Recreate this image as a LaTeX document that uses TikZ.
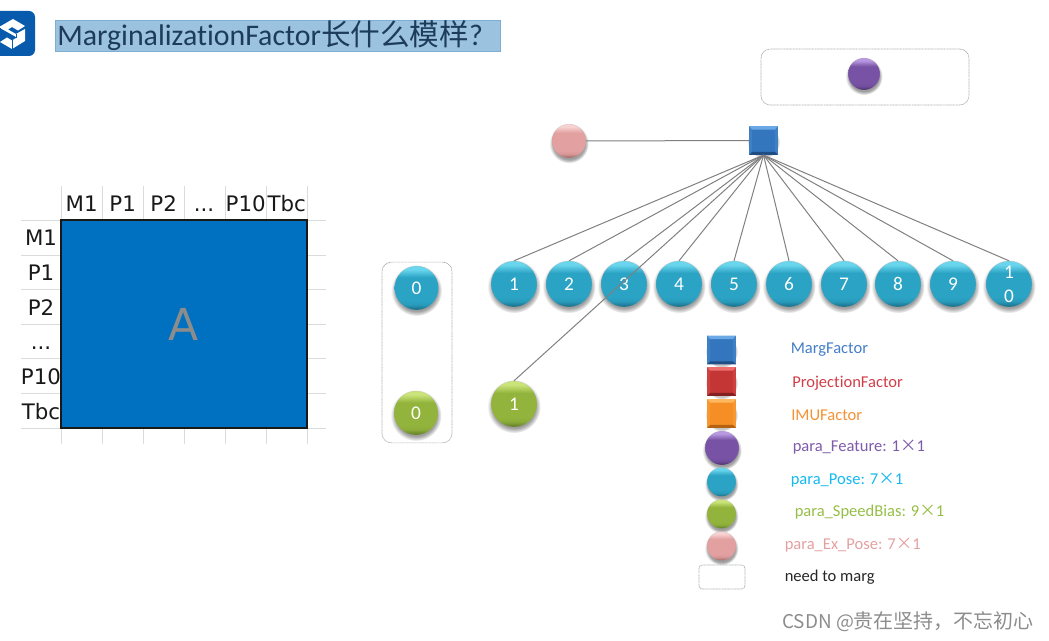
\documentclass[tikz,border=0pt]{standalone}
\usepackage{fontspec}
\setmainfont{Carlito}[Ligatures=CommonOff]
\newfontfamily\cjkf{Noto Sans CJK SC}
\newfontfamily\dvf{DejaVu Sans}
\usetikzlibrary{shadows,fadings,positioning}
\definecolor{posec}{HTML}{2BA3C4}
\definecolor{posel}{HTML}{6AD6EE}
\definecolor{posed}{HTML}{1A6A84}
\definecolor{greenc}{HTML}{93B43C}
\definecolor{greenl}{HTML}{CBE47A}
\definecolor{greend}{HTML}{5E7A26}
\definecolor{purc}{HTML}{7853A5}
\definecolor{purl}{HTML}{B898E0}
\definecolor{purd}{HTML}{4A306A}
\definecolor{pinkc}{HTML}{E3A0A0}
\definecolor{pinkl}{HTML}{F8D2D2}
\definecolor{pinkd}{HTML}{9A6464}
\definecolor{bluec}{HTML}{3476BD}
\definecolor{bluel}{HTML}{6AA8E6}
\definecolor{blued}{HTML}{1F4E85}
\definecolor{redc}{HTML}{C43535}
\definecolor{redl}{HTML}{EE6E6E}
\definecolor{redd}{HTML}{832020}
\definecolor{orac}{HTML}{F58F25}
\definecolor{oral}{HTML}{FFB860}
\definecolor{orad}{HTML}{B56212}
\definecolor{logoc}{RGB}{8,90,172}
\definecolor{barc}{RGB}{155,194,222}
\definecolor{bard}{RGB}{125,175,212}
\definecolor{titlec}{RGB}{28,60,90}
\definecolor{matc}{RGB}{0,112,192}
\definecolor{t1c}{RGB}{68,125,200}
\definecolor{t2c}{RGB}{208,62,72}
\definecolor{t3c}{RGB}{245,145,50}
\definecolor{t4c}{RGB}{125,90,170}
\definecolor{t5c}{RGB}{20,185,240}
\definecolor{t6c}{RGB}{150,190,70}
\definecolor{t7c}{RGB}{228,160,160}
\newcommand{\tdots}{...}
\newcommand{\crs}{{\cjkf ×}}
\newcommand{\mkshade}[2]{\pgfdeclareverticalshading{#1}{100bp}{color(0bp)=(#2d); color(25bp)=(#2d); color(31bp)=(#2c!85!#2d); color(36bp)=(#2c); color(62bp)=(#2c); color(71bp)=(#2l); color(75bp)=(#2l); color(100bp)=(#2l)}}
\mkshade{shpose}{pose}
\mkshade{shgreen}{green}
\mkshade{shpur}{pur}
\mkshade{shpink}{pink}
\tikzset{
  softshadow/.style={general shadow={fill=black,fill opacity=.38,shadow scale=1.16,shadow yshift=-1.6pt,path fading=circle with fuzzy edge 20 percent}},
  boxshadow/.style={general shadow={fill=black,fill opacity=.22,shadow scale=1.12,shadow yshift=-1pt,path fading=circle with fuzzy edge 10 percent}},
  ball/.style 2 args={circle,inner sep=0pt,minimum size=#1*0.75pt,softshadow,
    shade,shading=#2,draw=black!35,draw opacity=.35,line width=.3pt,text=white,
    font=\fontsize{14.5}{14.5}\selectfont,align=center},
  posenode/.style={ball={46}{shpose}},
  cube/.style n args={3}{rectangle,inner sep=0pt,minimum size=21.5pt,boxshadow,
    fill=#1,
    path picture={
      \fill[#1!80!#2] (path picture bounding box.north west) -- (path picture bounding box.south west)
        -- ++(2.2pt,2.2pt) -- ++(0,17.1pt) -- cycle;
      \fill[#1!80!#2] (path picture bounding box.north east) -- (path picture bounding box.south east)
        -- ++(-2.2pt,2.2pt) -- ++(0,17.1pt) -- cycle;
      \fill[#2] (path picture bounding box.north west) -- (path picture bounding box.north east)
        -- ++(-2.2pt,-2.6pt) -- ++(-17.1pt,0) -- cycle;
      \fill[#3] (path picture bounding box.south west) -- (path picture bounding box.south east)
        -- ++(-2.2pt,2.2pt) -- ++(-17.1pt,0) -- cycle;}},
  dashbox/.style={rectangle,rounded corners=7pt,draw=black!32,dash pattern=on .7pt off .4pt,line width=.5pt,fill=white,inner sep=0pt},
  edgeline/.style={draw=black!50,line width=.75pt},
  gridline/.style={draw=black!14,line width=.7pt},
  tlabel/.style={font=\dvf\fontsize{16}{16}\selectfont,text=black!90,inner sep=0pt,anchor=base},
  legend/.style={font=\fontsize{12.4}{13}\selectfont,anchor=west,inner sep=0pt},
}
\begin{document}
\begin{tikzpicture}[x=0.75pt,y=-0.75pt]
\useasboundingbox (0,0) rectangle (1049,641);
% logo
\fill[logoc,rounded corners=4.5pt] (-10,11) -- (35,11) -- (35,56) -- (-10,56) -- cycle;
\fill[white] (13,19) -- (25,26) -- (18,30.5) -- (12,27) -- (8,29.5) -- (16,34) -- (25,29) -- (25,41) -- (12,49) -- (0,42) -- (7,37.5) -- (12,40.5) -- (17,37.5) -- (0,28) -- (0,26.5) -- cycle;
\draw[logoc,line width=.5pt] (12,40.5) -- (12,49) (0,28) -- (0,34) (16,34) -- (16,38);
% title
\node[rectangle,fill=barc,draw=bard,line width=.4pt,inner sep=0pt,minimum width=333.5pt,minimum height=23.2pt] (titlebar) at (277.5,35.5) {};
\node[anchor=west,inner sep=0pt,text=titlec,font=\fontsize{22.4}{24}\selectfont] (title) at (57,36) {MarginalizationFactor{\fontsize{22.2}{24}\selectfont\cjkf 长什么模样}?};
% grid
\foreach \x in {61,102,143,184,225,266,307}{\draw[gridline] (\x,186) -- (\x,444);}
\foreach \y in {220,255,289,324,358,393,428}{\draw[gridline] (21,\y) -- (326,\y);}
\node[rectangle,fill=matc,draw=black!90,line width=1.7pt,minimum width=184pt,minimum height=156pt,inner sep=0pt,text=white!55!black,font=\dvf\fontsize{33}{33}\selectfont] (A) at (184,324) {A};
\foreach \t/\x/\n in {M1/81.7/a,P1/122.7/b,P2/163.7/c,\tdots/204/d,P10/245.7/e,Tbc/286.7/f}{\node[tlabel] (col\n) at (\x,211.7) {\t};}
\foreach \t/\y/\n in {M1/246/a,P1/281/b,P2/315.7/c,\tdots/350/d,P10/384/e,Tbc/419/f}{\node[tlabel] (row\n) at (41,\y) {\t};}
% containers
\node[dashbox,minimum width=52.5pt,minimum height=135.5pt] (boxA) at (417,352.5) {};
\node[dashbox,minimum width=156pt,minimum height=42pt] (boxB) at (865,77) {};
% nodes
\node[ball={44}{shpose}] (p0) at (416.5,288) {0};
\node[ball={44}{shgreen}] (s0) at (416,413) {0};
\node[ball={32}{shpur}] (feat) at (864,74) {};
\node[ball={34}{shpink}] (ex) at (569,141) {};
\node[cube={bluec}{bluel}{blued}] (factor) at (763.5,140.5) {};
\foreach \i/\x in {1/514,2/569,3/624,4/679,5/734,6/789,7/844,8/898,9/953}{\node[posenode] (p\i) at (\x,284) {\i};}
\node[posenode] (p10) at (1009,284) {\raisebox{-2pt}{1}\\[3.5pt]\raisebox{-2pt}{0}};
\node[ball={46}{shgreen}] (s1) at (514,404) {1};
% edges
\draw[edgeline] (ex) -- (factor);
\foreach \i in {1,2,3,4,5,6,7,8,9,10}{\draw[edgeline] (factor.south) -- (p\i.north);}
\draw[edgeline] (factor.south) -- (s1.north);
% legend
\node[cube={bluec}{bluel}{blued}] (lg1) at (721.5,350) {};
\node[cube={redc}{redl}{redd}] (lg2) at (721.5,381.5) {};
\node[cube={orac}{oral}{orad}] (lg3) at (721.5,413.5) {};
\node[ball={34}{shpur}] (lg4) at (722,448) {};
\node[ball={29}{shpose}] (lg5) at (721.5,482) {};
\node[ball={29}{shgreen}] (lg6) at (721.5,514) {};
\node[ball={29}{shpink}] (lg7) at (721.5,546) {};
\node[dashbox,rounded corners=2.5pt,minimum width=34.5pt,minimum height=18pt] (lg8) at (722,577) {};
\node[legend,text=t1c] (t1) at (790.5,350) {MargFactor};
\node[legend,text=t2c] (t2) at (792,383) {ProjectionFactor};
\node[legend,text=t3c] (t3) at (791,415) {IMUFactor};
\node[legend,text=t4c] (t4) at (792.5,447) {para\_Feature: 1\crs 1};
\node[legend,text=t5c] (t5) at (790.5,480) {para\_Pose: 7\crs 1};
\node[legend,text=t6c] (t6) at (794.5,512) {para\_SpeedBias: 9\crs 1};
\node[legend,text=t7c] (t7) at (784.5,545) {para\_Ex\_Pose: 7\crs 1};
\node[legend,text=black!85] (t8) at (784.5,577) {need to marg};
% watermark
\node[anchor=west,inner sep=0pt,text=black!45,font=\fontsize{14.2}{15}\selectfont\cjkf] (wm) at (782,622) {CSDN @{\fontsize{15}{15}\selectfont 贵在坚持，不忘初心}};
\end{tikzpicture}
\end{document}
